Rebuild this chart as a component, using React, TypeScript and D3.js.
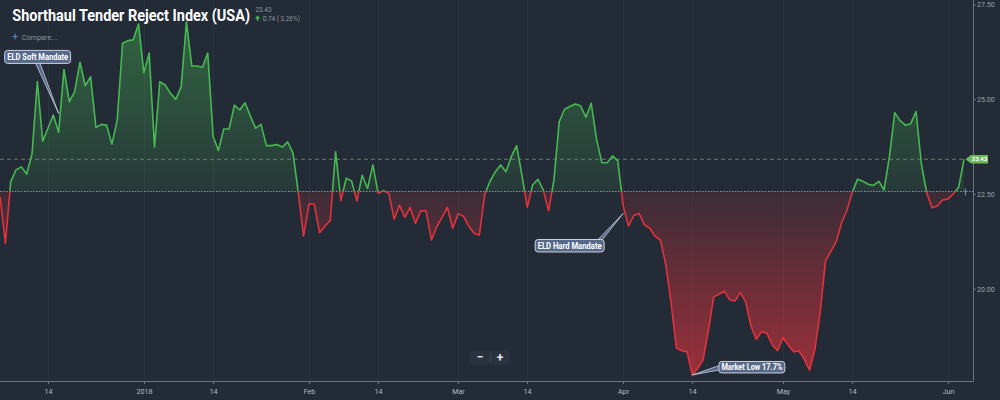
import React, { useLayoutEffect, useRef, useState } from "react";
import * as d3 from "d3";

// ---- data ----
const startDate = "2017-12-05";
const values: number[] = [
  22.44, 21.21, 22.84, 23.15, 23.23, 23.04, 23.57, 25.48, 23.91, 24.25,
  24.6, 24.14, 25.8, 24.95, 25.21, 25.99, 25.37, 25.61, 24.27, 24.35,
  24.33, 23.83, 24.47, 26.49, 26.56, 26.58, 27.0, 25.71, 26.23, 23.75,
  25.48, 25.39, 25.17, 25.01, 25.34, 27.05, 25.89, 25.89, 25.86, 26.23,
  24.04, 23.66, 24.23, 24.23, 24.86, 24.73, 24.92, 24.57, 24.25, 24.35,
  23.79, 23.79, 23.82, 23.75, 23.89, 23.6, 22.55, 21.4, 22.25, 22.25,
  21.49, 21.67, 21.81, 23.63, 22.34, 22.93, 22.86, 22.33, 23.01, 22.66,
  23.28, 22.53, 22.6, 22.53, 21.85, 22.22, 21.9, 22.16, 21.74, 22.07,
  22.07, 21.3, 21.65, 21.9, 22.16, 21.61, 21.99, 21.93, 21.67, 21.48,
  21.43, 22.5, 22.85, 23.1, 23.28, 23.1, 23.5, 23.79, 23.0, 22.16,
  22.75, 22.9, 22.62, 22.07, 22.88, 24.42, 24.75, 24.82, 24.89, 24.84,
  24.54, 24.91, 23.96, 23.34, 23.34, 23.52, 23.39, 22.2, 21.67, 21.95,
  22.0, 21.7, 21.61, 21.4, 21.3, 20.65, 19.65, 18.45, 18.38, 18.35,
  17.74, 17.91, 18.13, 18.9, 19.8, 19.87, 19.95, 19.72, 19.69, 19.92,
  19.67, 19.03, 18.68, 18.88, 18.84, 18.53, 18.38, 18.73, 18.53, 18.35,
  18.38, 18.15, 17.87, 18.41, 19.4, 20.75, 21.0, 21.25, 21.75, 22.08,
  22.55, 22.9, 22.85, 22.77, 22.74, 22.85, 22.62, 23.5, 24.66, 24.45,
  24.33, 24.37, 24.69, 23.3, 22.55, 22.15, 22.2, 22.36, 22.38, 22.52,
  22.69, 23.43,
];
const baselineValue = 22.58;
const lastValue = 23.43;
const changeText = "0.74 ( 3.26%)";
const titleText = "Shorthaul Tender Reject Index (USA)";

const xTickDates = [
  "2017-12-14", "2018-01-01", "2018-01-14", "2018-02-01", "2018-02-14", "2018-03-01",
  "2018-03-14", "2018-04-01", "2018-04-14", "2018-05-01", "2018-05-14", "2018-06-01",
];
const xTickLabels = ["14", "2018", "14", "Feb", "14", "Mar", "14", "Apr", "14", "May", "14", "Jun"];
const yTicks = [20, 22.5, 25, 27.5];

const annotationLabels = ["ELD Soft Mandate", "ELD Hard Mandate", "Market Low 17.7%"];
const annotationDates = ["2017-12-16", "2018-04-01", "2018-04-14"];
const annotationValues = [24.64, 22.0, 17.74];

const parse = d3.timeParse("%Y-%m-%d");

export default function App() {
  const W = 1000;
  const H = 400;
  const plotRight = 973;
  const plotBottom = 381;

  const titleRef = useRef<SVGTextElement | null>(null);
  const [titleScale, setTitleScale] = useState(0.74);
  useLayoutEffect(() => {
    if (titleRef.current) {
      const len = titleRef.current.getComputedTextLength();
      if (len > 0) setTitleScale(237.7 / len);
    }
  }, []);

  const start = parse(startDate) as Date;
  const data = values.map((v, i) => ({ date: d3.timeDay.offset(start, i), value: v }));

  const x = d3
    .scaleTime()
    .domain([parse("2017-12-14") as Date, parse("2018-06-01") as Date])
    .range([48, 948]);
  const y = d3.scaleLinear().domain([20, 27.5]).range([289.3, 5]);

  const yBase = y(baselineValue);
  const yLast = y(lastValue);

  const line = d3
    .line<{ date: Date; value: number }>()
    .x((d) => x(d.date))
    .y((d) => y(d.value));
  const area = d3
    .area<{ date: Date; value: number }>()
    .x((d) => x(d.date))
    .y0(yBase)
    .y1((d) => y(d.value));

  const linePath = line(data) || "";
  const areaPath = area(data) || "";

  const bg = "#232b36";
  const green = "#47b852";
  const red = "#e2323c";
  const font = "Roboto, 'Noto Sans', sans-serif";

  const annBoxes = [
    { dx: -54, dy: -63, w: 66, h: 13, anchor: "bottom" },
    { dx: -88, dy: 26, w: 69, h: 12.5, anchor: "top" },
    { dx: 26.5, dy: -13.5, w: 66, h: 11.5, anchor: "left" },
  ];

  const lastX = x(data[data.length - 1].date);

  return (
    <div style={{ position: "fixed", left: 0, top: 0, width: W, height: H, background: bg }}>
      <svg width={W} height={H} style={{ display: "block", fontFamily: font }}>
        <defs>
          <clipPath id="above">
            <rect x={0} y={0} width={plotRight} height={yBase} />
          </clipPath>
          <clipPath id="below">
            <rect x={0} y={yBase} width={plotRight} height={plotBottom - yBase} />
          </clipPath>
          <linearGradient id="gGreen" gradientUnits="userSpaceOnUse" x1={0} y1={0} x2={0} y2={yBase}>
            <stop offset="0" stopColor={green} stopOpacity={0.45} />
            <stop offset="1" stopColor={green} stopOpacity={0.1} />
          </linearGradient>
          <linearGradient id="gRed" gradientUnits="userSpaceOnUse" x1={0} y1={yBase} x2={0} y2={plotBottom}>
            <stop offset="0" stopColor={red} stopOpacity={0.13} />
            <stop offset="1" stopColor={red} stopOpacity={0.64} />
          </linearGradient>
        </defs>

        <rect x={0} y={0} width={W} height={H} fill={bg} />

        {/* vertical grid */}
        {xTickDates.map((d, i) => {
          const xx = Math.round(x(parse(d) as Date)) + 0.5;
          return <line key={"g" + i} x1={xx} x2={xx} y1={0} y2={plotBottom} stroke="#29323e" strokeWidth={1} />;
        })}

        {/* areas */}
        <path d={areaPath} fill="url(#gGreen)" clipPath="url(#above)" />
        <path d={areaPath} fill="url(#gRed)" clipPath="url(#below)" />

        {/* reference lines */}
        <line x1={0} x2={plotRight} y1={yLast} y2={yLast} stroke="#6b7a6e" strokeWidth={1} strokeDasharray="4,3" />
        <line x1={0} x2={plotRight} y1={yBase} y2={yBase} stroke="#8d949c" strokeWidth={1} strokeDasharray="1.5,1.5" />

        {/* lines */}
        <path d={linePath} fill="none" stroke={green} strokeWidth={1.6} clipPath="url(#above)" strokeLinejoin="round" />
        <path d={linePath} fill="none" stroke={red} strokeWidth={1.6} clipPath="url(#below)" strokeLinejoin="round" />

        {/* axes frame */}
        <line x1={plotRight + 0.5} x2={plotRight + 0.5} y1={0} y2={plotBottom} stroke="#6c747e" strokeWidth={1} />
        <line x1={0} x2={plotRight + 0.5} y1={plotBottom + 0.5} y2={plotBottom + 0.5} stroke="#6c747e" strokeWidth={1} />

        {/* y axis */}
        {yTicks.map((t, i) => (
          <g key={"y" + i}>
            <line x1={plotRight} x2={plotRight + 3} y1={y(t)} y2={y(t)} stroke="#6c747e" />
            <text x={plotRight + 4} y={y(t) + 2.4} fontSize={7} fill="#9ba4ae">
              {d3.format(".2f")(t)}
            </text>
          </g>
        ))}

        {/* x axis */}
        {xTickDates.map((d, i) => {
          const xx = Math.round(x(parse(d) as Date)) + 0.5;
          return (
            <g key={"x" + i}>
              <line x1={xx} x2={xx} y1={plotBottom} y2={plotBottom + 3} stroke="#6c747e" />
              <text x={xx} y={394} fontSize={7.2} fill="#b3bac2" textAnchor="middle">
                {xTickLabels[i]}
              </text>
            </g>
          );
        })}

        {/* last value tag */}
        <path
          d={`M${lastX + 1.5},${yLast} L${lastX + 7},${yLast - 4.2} L${lastX + 24},${yLast - 4.2} L${lastX + 24},${yLast + 4.2} L${lastX + 7},${yLast + 4.2} Z`}
          fill="#6fb85c"
        />
        <text x={lastX + 15.5} y={yLast + 2.2} fontSize={6} fill="#ffffff" textAnchor="middle" fontWeight={700}>
          {d3.format(".2f")(lastValue)}
        </text>
        <line x1={lastX + 1.5} x2={lastX + 1.5} y1={yBase - 3} y2={yBase + 4} stroke="#6f86ad" strokeWidth={1.2} />

        {/* annotations */}
        {annotationLabels.map((lab, i) => {
          const tx = x(parse(annotationDates[i]) as Date);
          const ty = y(annotationValues[i]);
          const b = annBoxes[i];
          const bx = tx + b.dx;
          const by = ty + b.dy;
          let wedge = "";
          if (b.anchor === "bottom") {
            const ax = bx + b.w / 2;
            wedge = `M${ax - 2.2},${by + b.h - 0.5} L${tx},${ty} L${ax + 2.2},${by + b.h - 0.5}`;
          } else if (b.anchor === "top") {
            const ax = bx + b.w - 4;
            wedge = `M${ax - 2.5},${by + 0.5} L${tx},${ty} L${ax + 2},${by + 0.5}`;
          } else {
            const ay = by + b.h / 2 + 0.5;
            wedge = `M${bx + 0.5},${ay - 2.2} L${tx},${ty} L${bx + 0.5},${ay + 2.2}`;
          }
          return (
            <g key={"a" + i}>
              <path d={wedge} fill="#56698a" stroke="#c9d1dd" strokeWidth={0.8} />
              <rect x={bx} y={by} width={b.w} height={b.h} rx={3} fill="#56698a" stroke="#c9d1dd" strokeWidth={1} />
              <text
                x={bx + b.w / 2}
                y={by + b.h / 2 + 3}
                fontSize={8.6}
                fontWeight={700}
                fill="#ffffff"
                textAnchor="middle"
                textLength={b.w - 5}
                lengthAdjust="spacingAndGlyphs"
              >
                {lab}
              </text>
            </g>
          );
        })}

        {/* zoom buttons */}
        <rect x={470} y={350.5} width={40} height={14} rx={2} fill="#29323e" />
        <line x1={490.5} x2={490.5} y1={353} y2={362} stroke="#3a4450" />
        <text x={480} y={361} fontSize={12} fill="#e6e9ec" textAnchor="middle" fontWeight={700}>−</text>
        <text x={500} y={361.5} fontSize={12} fill="#e6e9ec" textAnchor="middle" fontWeight={700}>+</text>

        {/* title */}
        <g transform={`translate(12.3,20.7) scale(${titleScale},1)`}>
          <text ref={titleRef} x={0} y={0} fontSize={16.5} fontWeight={700} fill="#ffffff">
            {titleText}
          </text>
        </g>
        <text x={255.5} y={11.8} fontSize={6.4} fill="#8e979f">
          {d3.format(".2f")(lastValue)}
        </text>
        <path d="M257.6,15.6 L260.2,18.2 L258.6,18.2 L258.6,20.5 L256.6,20.5 L256.6,18.2 L255,18.2 Z" fill={green} />
        <text x={262.7} y={20.7} fontSize={6.4} fill="#8e979f">
          {changeText}
        </text>
        <text x={15} y={40} fontSize={10} fill="#5b8fd4" textAnchor="middle">+</text>
        <text x={21.7} y={39.5} fontSize={7.3} fill="#88929c">Compare...</text>
      </svg>
    </div>
  );
}
